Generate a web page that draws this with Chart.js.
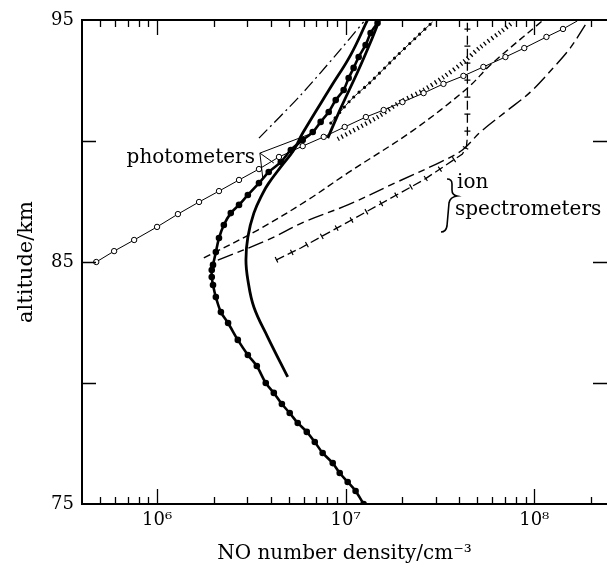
<!DOCTYPE html>
<html><head><meta charset="utf-8">
<script src="https://cdn.jsdelivr.net/npm/chart.js@4/dist/chart.umd.min.js"></script>
<style>html,body{margin:0;padding:0;background:#fff;}#c{display:block;}</style>
</head><body>
<canvas id="c" width="607" height="572"></canvas>
<script>
// ---- tick labels ----
const xLabelTicks = [1e6, 1e7, 1e8];
const xLabelText  = ['10\u2076', '10\u2077', '10\u2078'];
const yLabelTicks = [95, 85, 75];
const yInnerTicks = [90, 85, 80];

// ---- photometer, open circles ----
const photoDensity = [4.76e5,5.92e5,7.56e5,1.0e6,1.29e6,1.67e6,2.13e6,2.72e6,3.47e6,4.43e6,5.92e6,7.65e6,9.88e6,1.28e7,1.59e7,2.00e7,2.59e7,3.30e7,4.21e7,5.37e7,7.03e7,8.85e7,1.16e8,1.42e8,1.69e8];
const photoAlt     = [85.0,85.45,85.91,86.45,86.98,87.48,87.93,88.39,88.84,89.34,89.79,90.17,90.58,90.99,91.28,91.61,91.98,92.36,92.69,93.06,93.47,93.84,94.30,94.63,94.96];

// ---- thick line with filled dots ----
const dotDensity = [1.245e7,1.129e7,1.025e7,9.30e6,8.54e6,7.55e6,6.86e6,6.22e6,5.57e6,5.05e6,4.59e6,4.16e6,3.77e6,3.38e6,3.03e6,2.68e6,2.38e6,2.18e6,2.05e6,1.98e6,1.95e6,1.95e6,1.98e6,2.05e6,2.13e6,2.26e6,2.46e6,2.72e6,3.03e6,3.47e6,3.91e6,4.53e6,5.12e6,5.92e6,6.69e6,7.37e6,8.13e6,8.86e6,9.76e6,1.037e7,1.102e7,1.172e7,1.276e7,1.356e7,1.476e7];
const dotAlt     = [75.0,75.54,75.91,76.28,76.69,77.11,77.56,77.98,78.35,78.76,79.13,79.59,80.0,80.70,81.16,81.78,82.48,82.93,83.55,84.05,84.38,84.67,84.88,85.41,85.99,86.53,87.02,87.36,87.77,88.26,88.72,89.13,89.63,90.04,90.37,90.79,91.20,91.69,92.11,92.60,93.02,93.47,93.97,94.46,94.88];

// ---- thick solid curve ----
const solidDensity = [4.93e6,3.86e6,3.26e6,3.03e6,2.96e6,3.03e6,3.26e6,3.64e6,3.91e6,4.53e6,5.31e6,5.92e6,8.34e6,1.062e7,1.306e7];
const solidAlt     = [80.25,81.90,83.14,84.26,85.08,86.03,87.02,87.85,88.26,88.93,89.63,90.33,92.23,93.55,95.0];

// ---- short thick solid curve ----
const solid2Density = [8.04e6,9.42e6,1.157e7,1.356e7,1.51e7];
const solid2Alt     = [90.12,91.36,92.85,94.09,95.0];

// ---- dash-dot ----
const dashDotDensity = [3.47e6,5.78e6,8.86e6,1.245e7];
const dashDotAlt     = [90.12,91.90,93.55,94.92];

// ---- small dots ----
const smallDotDensity = [8.34e6,1.062e7,1.355e7,1.84e7,2.35e7,2.89e7];
const smallDotAlt     = [90.74,91.69,92.44,93.47,94.26,94.92];

// ---- hatched ----
const hatchDensity = [9.08e6,1.476e7,1.95e7,2.59e7,3.30e7,4.21e7,5.18e7,6.61e7,7.74e7];
const hatchAlt     = [90.08,90.99,91.61,92.11,92.64,93.26,93.88,94.50,94.92];

// ---- short dashed ----
const shortDashDensity = [1.77e6,3.42e6,6.29e6,1.026e7,2.29e7,4.43e7,5.85e7,1.117e8];
const shortDashAlt     = [85.17,86.32,87.56,88.68,90.45,92.19,93.14,95.0];

// ---- long dashed ----
const longDashDensity = [2.10e6,3.86e6,6.0e6,1.026e7,1.88e7,3.18e7,4.16e7,5.18e7,7.03e7,9.53e7,1.26e8,1.55e8,1.91e8];
const longDashAlt     = [85.08,85.91,86.65,87.36,88.31,89.13,89.63,90.37,91.20,92.02,93.02,93.84,94.92];

// ---- ion spectrometer, tick-dashed ----
const ionDensity = [4.27e6,5.78e6,1.026e7,2.59e7,3.72e7,4.16e7,4.37e7,4.42e7,4.42e7];
const ionAlt     = [85.08,85.58,86.65,88.39,89.21,89.46,89.79,90.17,95.0];

// ---- photometer pointer (data coords) ----
const pointerVertex = [3.51e6, 89.50];
const pointerEnds = [[6.69e6, 90.33],[4.16e6, 89.09],[3.64e6, 88.43]];

const FONT = "'DejaVu Serif', serif";
const pts = (xs, ys) => xs.map((x, i) => ({x: x, y: ys[i]}));
const base = {showLine: true, borderColor: '#000', backgroundColor: '#000', pointRadius: 0, fill: false};

const datasets = [
  Object.assign({}, base, {data: pts(photoDensity, photoAlt), borderWidth: 1, tension: 0,
    pointRadius: photoAlt.map((_, i) => i === photoAlt.length - 1 ? 0 : 2.7),
    pointBackgroundColor: '#fff', pointBorderColor: '#000', pointBorderWidth: 1}),
  Object.assign({}, base, {data: pts(dotDensity, dotAlt), borderWidth: 2.6, tension: 0.3,
    pointRadius: 3.3, pointBackgroundColor: '#000', pointBorderWidth: 0}),
  Object.assign({}, base, {data: pts(solidDensity, solidAlt), borderWidth: 2.8, tension: 0.4}),
  Object.assign({}, base, {data: pts(solid2Density, solid2Alt), borderWidth: 2.8, tension: 0.3}),
  Object.assign({}, base, {data: pts(dashDotDensity, dashDotAlt), borderWidth: 1.3, tension: 0.3, borderDash: [12, 4, 2, 4]}),
  Object.assign({}, base, {data: pts(smallDotDensity, smallDotAlt), borderWidth: 0.9, tension: 0.3}),
  Object.assign({}, base, {data: pts(smallDotDensity, smallDotAlt), borderWidth: 3.2, tension: 0.3, borderDash: [0, 7], borderCapStyle: 'round'}),
  Object.assign({}, base, {data: pts(hatchDensity, hatchAlt), borderWidth: 4.5, tension: 0.3, borderDash: [1.3, 3.2]}),
  Object.assign({}, base, {data: pts(shortDashDensity, shortDashAlt), borderWidth: 1.4, tension: 0.35, borderDash: [7, 4]}),
  Object.assign({}, base, {data: pts(longDashDensity, longDashAlt), borderWidth: 1.4, tension: 0.35, borderDash: [16, 5, 7, 5]}),
  Object.assign({}, base, {data: pts(ionDensity, ionAlt), borderWidth: 1.3, tension: 0, borderDash: [9, 4]}),
  Object.assign({}, base, {data: pts(ionDensity, ionAlt), borderWidth: 6, tension: 0, borderDash: [1.2, 15.8]})
];

const framePlugin = {
  id: 'frame',
  afterDraw(chart) {
    const {ctx, chartArea: a, scales: {x, y}} = chart;
    ctx.save();
    ctx.strokeStyle = '#000';
    ctx.lineWidth = 2;
    ctx.beginPath();
    ctx.moveTo(a.right + 2, a.top); ctx.lineTo(a.left, a.top);
    ctx.lineTo(a.left, a.bottom); ctx.lineTo(a.right + 2, a.bottom);
    ctx.stroke();
    ctx.lineWidth = 1.3;
    ctx.beginPath();
    for (let d = 5; d <= 8; d++) {
      for (let m = 1; m <= 9; m++) {
        const v = m * Math.pow(10, d);
        if (v <= x.min * 1.001 || v >= x.max) continue;
        const px = Math.round(x.getPixelForValue(v)) + 0.5;
        const len = m === 1 ? 15 : 7;
        ctx.moveTo(px, a.bottom); ctx.lineTo(px, a.bottom - len);
        ctx.moveTo(px, a.top); ctx.lineTo(px, a.top + len);
      }
    }
    for (const v of yInnerTicks) {
      const py = Math.round(y.getPixelForValue(v)) + 0.5;
      ctx.moveTo(a.left, py); ctx.lineTo(a.left + 14, py);
      ctx.moveTo(a.right, py); ctx.lineTo(a.right - 14, py);
    }
    ctx.stroke();
    // pointer
    ctx.lineWidth = 1;
    ctx.beginPath();
    const vx = x.getPixelForValue(pointerVertex[0]), vy = y.getPixelForValue(pointerVertex[1]);
    for (const e of pointerEnds) {
      ctx.moveTo(vx, vy);
      ctx.lineTo(x.getPixelForValue(e[0]), y.getPixelForValue(e[1]));
    }
    ctx.stroke();
    // labels
    ctx.fillStyle = '#000';
    ctx.font = "20px " + FONT;
    ctx.textBaseline = 'alphabetic';
    ctx.textAlign = 'right';
    ctx.fillText('photometers', vx - 5, vy + 10);
    ctx.textAlign = 'left';
    ctx.fillText('ion', 457, 188);
    ctx.fillText('spectrometers', 455, 215);
    // brace
    ctx.lineWidth = 1.6;
    ctx.beginPath();
    ctx.moveTo(447, 179);
    ctx.quadraticCurveTo(452, 179, 452, 184);
    ctx.lineTo(452, 190);
    ctx.quadraticCurveTo(452, 195, 457, 196);
    ctx.quadraticCurveTo(450, 197, 449, 203);
    ctx.lineTo(447, 226);
    ctx.quadraticCurveTo(446, 232, 441, 232);
    ctx.stroke();
    ctx.restore();
  }
};

new Chart(document.getElementById('c'), {
  type: 'scatter',
  data: {datasets: datasets},
  options: {
    responsive: false,
    animation: false,
    devicePixelRatio: 1,
    layout: {autoPadding: false, padding: {top: 20, left: 0, right: 0, bottom: 0}},
    plugins: {legend: {display: false}, tooltip: {enabled: false}},
    scales: {
      x: {
        type: 'logarithmic', min: 4e5, max: 2.43e8,
        grid: {display: false, drawTicks: false}, border: {display: false},
        afterBuildTicks: (s) => { s.ticks = xLabelTicks.map(v => ({value: v})); },
        ticks: {autoSkip: false, maxRotation: 0, color: '#000', padding: 6,
          font: {family: FONT, size: 18},
          callback: (v) => { const i = xLabelTicks.indexOf(v); return i >= 0 ? xLabelText[i] : ''; }},
        title: {display: true, text: 'NO number density/cm\u207B\u00B3', color: '#000',
          font: {family: FONT, size: 20}, padding: {top: 0, bottom: 6}},
        afterFit: (s) => { s.height = 68; }
      },
      y: {
        type: 'linear', min: 75, max: 95,
        grid: {display: false, drawTicks: false}, border: {display: false},
        afterBuildTicks: (s) => { s.ticks = yLabelTicks.map(v => ({value: v})); },
        ticks: {color: '#000', padding: 8, font: {family: FONT, size: 18},
          callback: (v) => String(v)},
        title: {display: true, text: 'altitude/km', color: '#000',
          font: {family: FONT, size: 21}, padding: {top: 14, bottom: 0}},
        afterFit: (s) => { s.width = 82; }
      }
    }
  },
  plugins: [framePlugin]
});
</script>
</body></html>
